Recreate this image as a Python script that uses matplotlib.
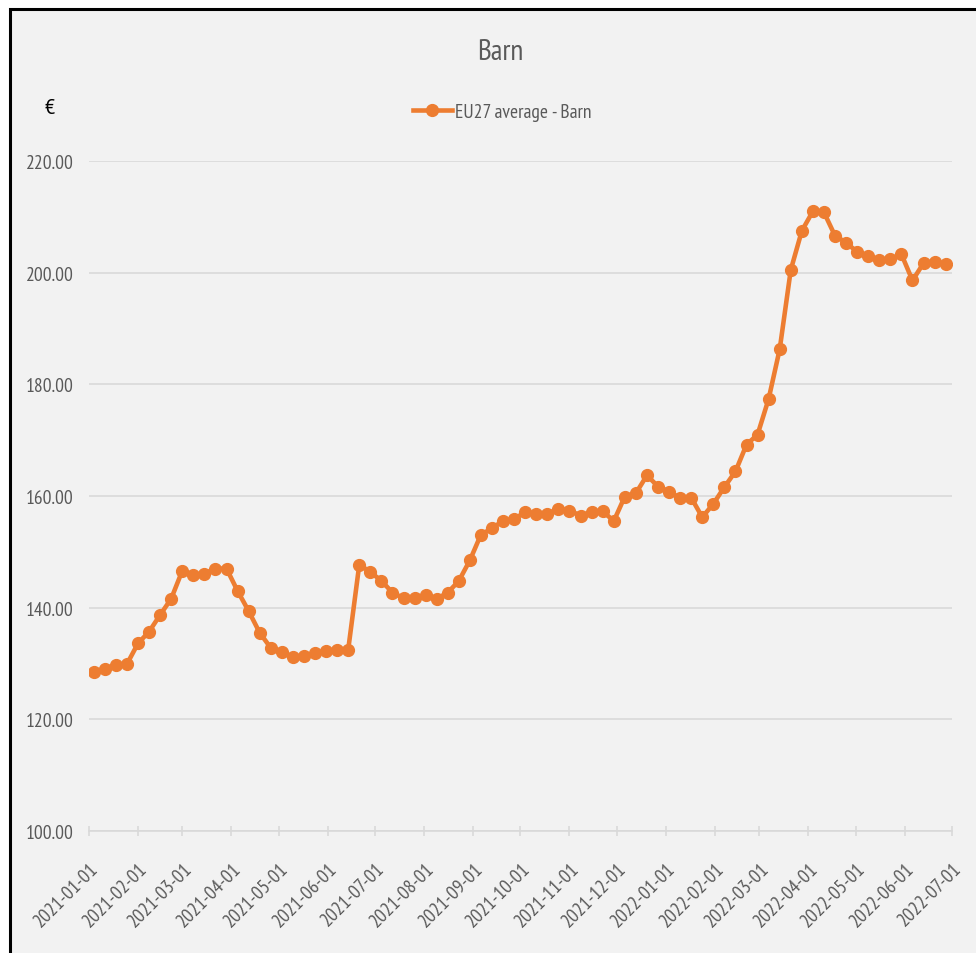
import matplotlib
matplotlib.use("Agg")
import matplotlib.pyplot as plt
import matplotlib.dates as mdates
from matplotlib import font_manager
from matplotlib.patches import Rectangle
from matplotlib.transforms import ScaledTranslation
import pandas as pd

# weekly EU27 average price, Barn (EUR)
start_week = "2021-01-04"
barn_prices = [
    128.5, 129.1, 129.7, 129.9, 133.6, 135.7, 138.7, 141.6, 146.6, 145.9,
    146.1, 147.0, 147.0, 143.0, 139.4, 135.5, 132.8, 132.0, 131.2, 131.4,
    131.8, 132.3, 132.5, 132.5, 147.7, 146.4, 144.8, 142.7, 141.7, 141.7,
    142.3, 141.6, 142.7, 144.8, 148.5, 153.1, 154.2, 155.6, 155.8, 157.2,
    156.8, 156.8, 157.7, 157.4, 156.5, 157.1, 157.3, 155.5, 159.9, 160.5,
    163.7, 161.7, 160.8, 159.6, 159.7, 156.2, 158.6, 161.6, 164.4, 169.2,
    171.0, 177.4, 186.3, 200.5, 207.5, 211.0, 210.8, 206.6, 205.4, 203.7,
    202.9, 202.3, 202.4, 203.3, 198.6, 201.7, 202.0, 201.6,
]
weeks = pd.date_range(start_week, periods=len(barn_prices), freq="7D")
series_name = "EU27 average - Barn"
y_ticks = [100, 120, 140, 160, 180, 200, 220]
x_range = ("2021-01-01", "2022-07-01")

ORANGE = "#ED7D31"
GREY_TXT = "#595959"
GRID = "#d9d9d9"

# narrow humanist sans to get close to the (stretched) Calibri look
available = {f.name for f in font_manager.fontManager.ttflist}
wanted = ["PT Sans Narrow", "Open Sans Condensed", "Liberation Sans"]
families = [f for f in wanted if f in available] + ["DejaVu Sans"]
plt.rcParams["font.family"] = families

W, H = 976, 954
fig = plt.figure(figsize=(W / 100, H / 100), dpi=100, facecolor="white")

# chart panel with black frame (left/top visible)
panel = Rectangle((9.5 / W, -0.05), 1.2, 1.05 - 9.5 / H, transform=fig.transFigure,
                  facecolor="#f2f2f2", edgecolor="black", lw=2.2, zorder=-10)
fig.patches.append(panel)

ax = fig.add_axes([89 / W, 1 - 832 / H, (952 - 89) / W, (832 - 162) / H])
ax.set_facecolor("none")

line, = ax.plot(weeks, barn_prices, color=ORANGE, lw=3.3, marker="o", ms=8.5,
                mec=ORANGE, mfc=ORANGE, label=series_name, zorder=3)

ax.set_xlim(pd.Timestamp(x_range[0]), pd.Timestamp(x_range[1]))
ax.set_ylim(y_ticks[0], y_ticks[-1])
ax.set_yticks(y_ticks)
ax.set_yticklabels([f"{v:.2f}" for v in y_ticks])
ax.yaxis.grid(True, color=GRID, lw=1.2)
ax.set_axisbelow(True)

for side in ["left", "right", "top"]:
    ax.spines[side].set_visible(False)
ax.spines["bottom"].set_color(GRID)
ax.spines["bottom"].set_linewidth(1.2)

ax.xaxis.set_major_locator(mdates.MonthLocator())
ax.xaxis.set_major_formatter(mdates.DateFormatter("%Y-%m-%d"))
ax.tick_params(axis="x", direction="inout", length=7.2, width=1.2, color=GRID,
               pad=20.9, labelsize=14, labelcolor=GREY_TXT)
ax.tick_params(axis="y", length=0, pad=10.8, labelsize=14, labelcolor=GREY_TXT)

shift = ScaledTranslation(7 / 100, 0, fig.dpi_scale_trans)
for lab in ax.get_xticklabels():
    lab.set_rotation(45)
    lab.set_ha("right")
    lab.set_va("center")
    lab.set_rotation_mode("anchor")
    lab.set_transform(lab.get_transform() + shift)

fig.text(500 / W, 1 - 53 / H, "Barn", ha="center", va="center",
         fontsize=21, color=GREY_TXT)
fig.text(50 / W, 1 - 108 / H, "€", ha="center", va="center",
         fontsize=16, color="black")

fig.legend(handles=[line], loc="center", bbox_to_anchor=(502 / W, 1 - 113 / H),
           frameon=False, fontsize=14, labelcolor=GREY_TXT,
           handlelength=2.0, handletextpad=0.15, borderpad=0)

fig.savefig("out.png", dpi=100, facecolor="white")
